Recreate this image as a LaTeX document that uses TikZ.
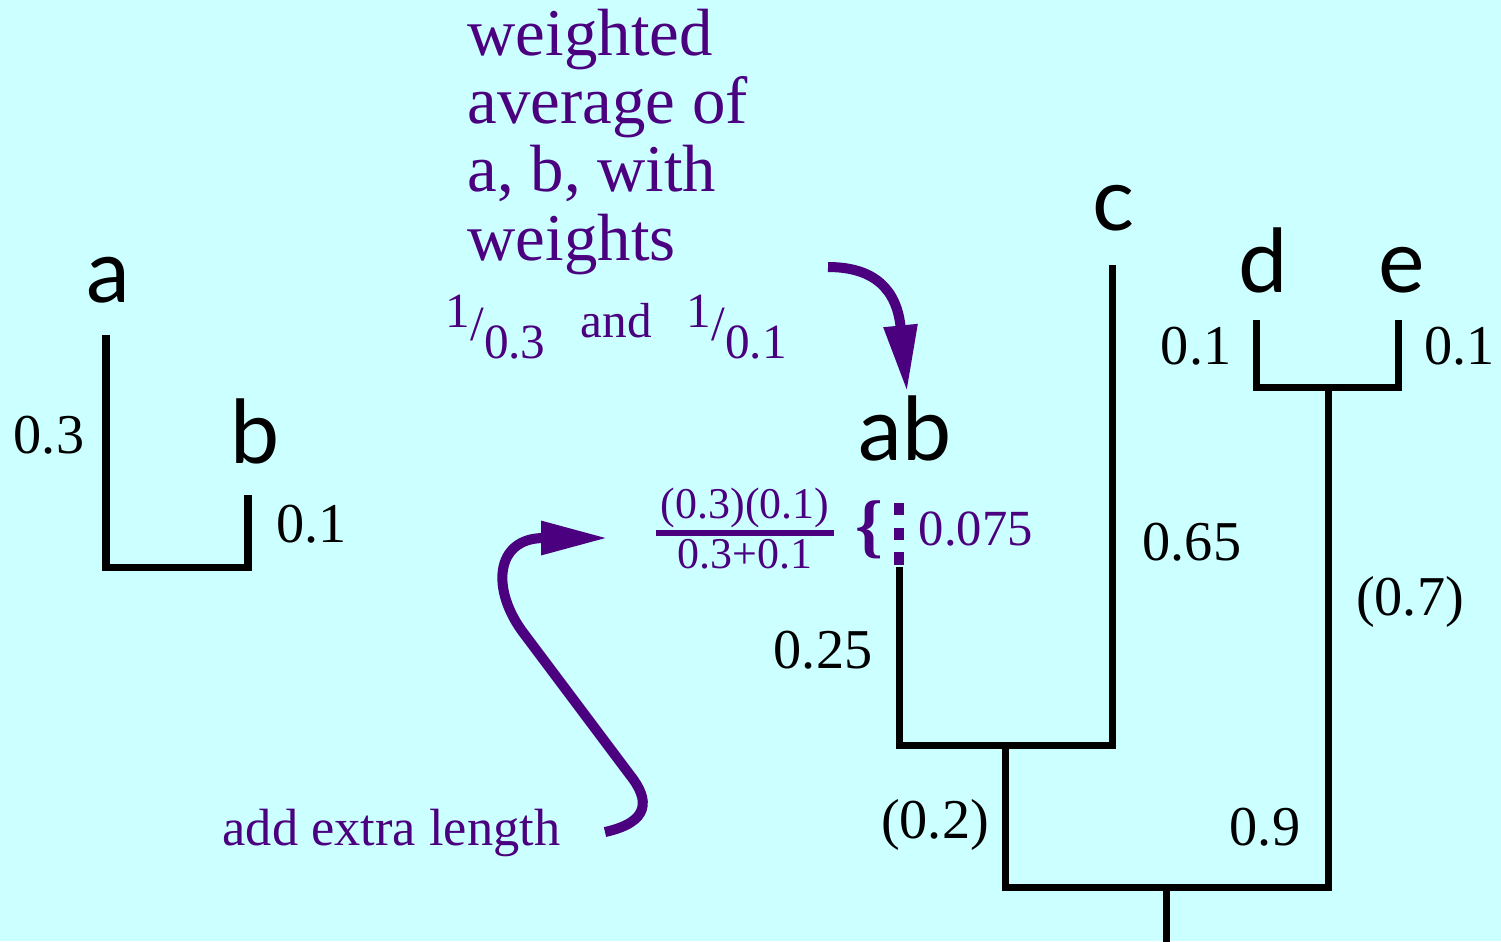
\documentclass[tikz,border=0pt]{standalone}
\usepackage{fontspec}
\setmainfont{Liberation Serif}
\newfontfamily\leaffont{Lato}
\usepackage{tikz}
\usetikzlibrary{arrows.meta,positioning}
\definecolor{bgcyan}{RGB}{204,255,255}
\definecolor{notepurple}{RGB}{75,0,128}
\tikzset{
  branch/.style ={line width=2pt, draw=black, line join=miter},
  extra/.style  ={line width=2.85pt, draw=notepurple, dash pattern=on 3.5pt off 3.5pt},
  pointer/.style={-{Triangle[length=19pt,width=9pt]}, line width=2.85pt, draw=notepurple},
  fracbar/.style={line width=1.7pt, draw=notepurple},
  leaf/.style   ={font=\leaffont\fontsize{25}{30}\selectfont, anchor=base, inner sep=0pt},
  len/.style    ={font=\fontsize{16}{19}\selectfont, anchor=base, inner sep=0pt},
  note/.style   ={text=notepurple, inner sep=0pt, anchor=base west}
}

\begin{document}
\begin{tikzpicture}[x=0.01cm, y=-0.01cm]
\fill[bgcyan] (0,0) rectangle (1501,941);
\useasboundingbox (0,0) rectangle (1501,941);
% Two leaves
\node[leaf] (a) at (108,302) {a};
\node[leaf] (b) at (255,463) {b};
\coordinate (ta) at (106,335);
\coordinate (tb) at (248,495);
\coordinate (jab) at (177,567);
\draw[branch] (ta) |- (jab) -| (tb);
\node[len] (la) at (49,453) {0.3};
\node[len, anchor=base west] (lb) at (276,542) {0.1};
% Tree after joining
\node[leaf] (ab) at (905,460) {ab};
\node[leaf] (c) at (1113,230) {c};
\node[leaf] (d) at (1263,292) {d};
\node[leaf] (e) at (1402,292) {e};
\coordinate (tab0) at (899,503);
\coordinate (tab) at (899,567);
\coordinate (tc) at (1112,265);
\coordinate (jabc) at (1005,745);
\coordinate (td) at (1256,320);
\coordinate (te) at (1398,320);
\coordinate (jde) at (1328,387);
\coordinate (root) at (1166,887);
\coordinate (rootend) at (1166,945);
\draw[branch] (tab) |- (jabc) -| (tc);
\draw[branch] (td) |- (jde) -| (te);
\draw[branch] (jabc) |- (root) -| (jde);
\draw[branch] (root) -- (rootend);
\draw[extra] (tab0) -- (tab);
\node[len, anchor=base east] (ld) at (1232,364) {0.1};
\node[len, anchor=base west] (le) at (1424,364) {0.1};
\node[len, anchor=base west] (lc) at (1142,560) {0.65};
\node[len] (lde) at (1410,615) {(0.7)};
\node[len, anchor=base east] (lab) at (873,668) {0.25};
\node[len] (labc) at (935,838) {(0.2)};
\node[len] (lroot) at (1265,845) {0.9};
% Notes
\node[note, align=left, font=\fontsize{19}{19.4}\selectfont] (weights) at (467,260)
  {weighted\\average of\\a, b, with\\weights};
\node[note, font=\fontsize{14}{16}\selectfont] (recip) at (445,337)
  {\raisebox{2.6pt}{1}\raisebox{-1pt}{/}\raisebox{-6pt}{0.3}\hspace{10pt}and\hspace{10pt}\raisebox{2.6pt}{1}\raisebox{-1pt}{/}\raisebox{-6pt}{0.1}};
\node[note, anchor=base, font=\fontsize{12.5}{14}\selectfont] (num) at (745,518) {(0.3)(0.1)};
\node[note, anchor=base, font=\fontsize{12.5}{14}\selectfont] (den) at (745,568) {0.3+0.1};
\draw[fracbar] (656,533) -- (834,533);
\node[note, anchor=center, font=\bfseries\fontsize{20}{22}\selectfont] (brace) at (869,530) {\{};
\node[note, font=\fontsize{14.4}{16}\selectfont] (extralen) at (918,545) {0.075};
\node[note, font=\fontsize{14.9}{17}\selectfont] (addnote) at (222,845) {add extra length};
% Arrows
\coordinate (w0) at (828,267);
\coordinate (w1) at (907,392);
\draw[pointer] (w0) .. controls (875,267) and (897,290) .. (w1);
\coordinate (x0) at (605,832);
\coordinate (x1) at (630,775);
\coordinate (x2) at (525,635);
\coordinate (x3) at (608,538);
\draw[pointer] (x0) .. controls (650,822) and (650,800) .. (x1) -- (x2)
  .. controls (490,590) and (495,538) .. (x3);
\end{tikzpicture}
\end{document}
